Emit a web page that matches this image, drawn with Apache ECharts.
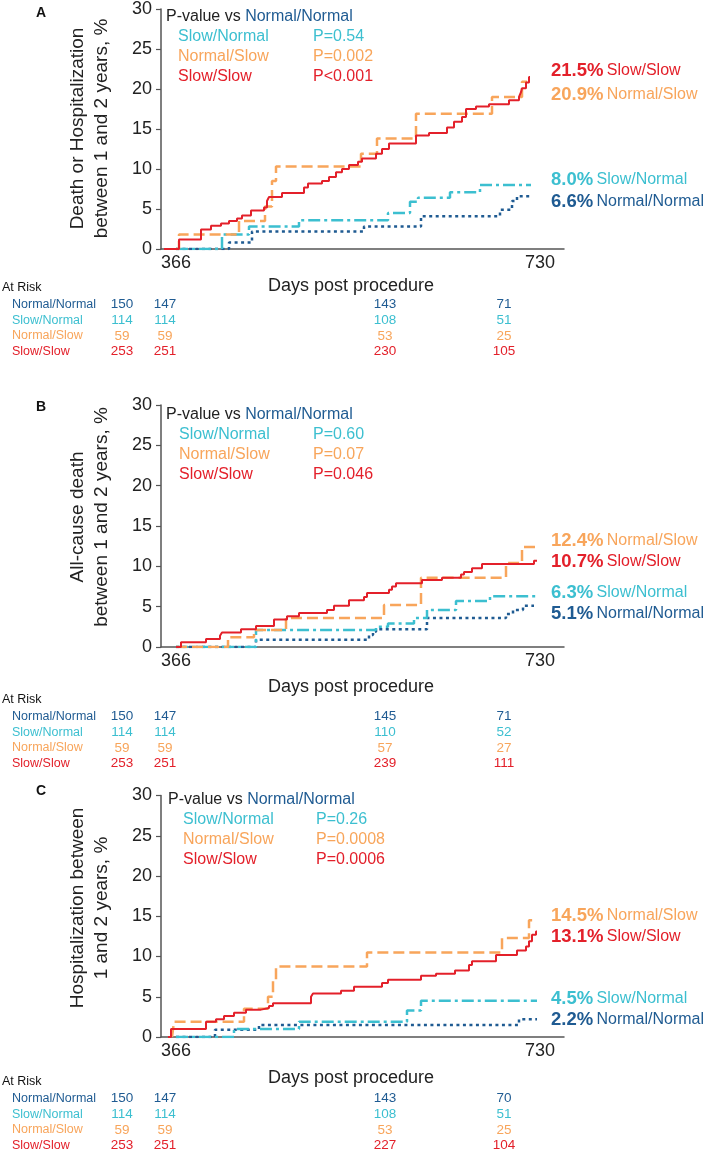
<!DOCTYPE html>
<html><head><meta charset="utf-8">
<script src="https://cdn.jsdelivr.net/npm/echarts@6/dist/echarts.min.js"></script>
<style>html,body{margin:0;padding:0;background:#fff}#c{width:709px;height:1149px}</style>
</head><body><div id="c"></div>
<script>
// ---------- data ----------
const groups = ['Normal/Normal', 'Slow/Normal', 'Normal/Slow', 'Slow/Slow'];
const xTickLabels = [366, 730];
const yTitles = [
  'Death or Hospitalization\nbetween 1 and 2 years, %',
  'All-cause death\nbetween 1 and 2 years, %',
  'Hospitalization between\n1 and 2 years, %'
];
const panelLetters = ['A', 'B', 'C'];

// Panel A: death or hospitalization
const aNN = [[366,0],[419,0.8],[442,2.2],[554,2.8],[611,4.1],[690,4.9],[702,6.0],[707,6.6],[721,6.6]];
const aSN = [[366,0],[412,1.8],[439,2.8],[489,3.6],[578,4.5],[600,5.9],[608,6.4],[640,7.1],[670,8.0],[721,8.0]];
const aNS = [[366,0],[369,1.8],[429,3.5],[455,5.3],[462,8.5],[466,10.3],[551,11.9],[567,13.8],[606,16.9],[682,19.0],[712,20.9],[717,20.9]];
const aSS = [[354,0],[369,1.2],[391,2.45],[401,2.9],[411,3.2],[419,3.5],[427,3.8],[432,4.2],[441,4.8],[454,5.2],[457,6.0],[459,6.5],[472,7.0],[494,7.7],[498,8.2],[512,8.5],[519,9.0],[526,9.6],[532,10.0],[539,10.5],[548,10.9],[552,11.3],[566,11.9],[572,12.5],[579,13.2],[606,14.2],[619,14.5],[637,15.2],[644,15.9],[652,16.5],[656,17.5],[666,17.8],[679,18.1],[699,18.6],[709,19.0],[711,19.6],[712,20.1],[716,20.8],[719,21.5],[720,21.5]];

// Panel B: all-cause death
const bNN = [[366,0],[446,0.9],[559,1.5],[563,1.9],[566,2.2],[617,3.6],[696,4.1],[703,4.6],[713,5.1],[724,5.1]];
const bSN = [[366,0],[446,2.1],[566,2.5],[578,2.9],[604,3.6],[617,4.6],[646,5.7],[680,6.3],[727,6.3]];
const bNS = [[366,0],[418,1.2],[444,2.1],[476,3.6],[574,5.2],[611,8.6],[696,10.4],[712,12.4],[727,12.4]];
const bSS = [[366,0],[371,0.6],[396,1.0],[410,1.4],[412,1.8],[431,2.2],[446,2.6],[464,3.4],[477,3.8],[489,4.2],[517,4.6],[524,5.1],[539,5.8],[554,6.2],[557,6.7],[579,7.1],[582,7.5],[586,7.9],[612,8.3],[632,8.6],[651,9.0],[654,9.3],[662,9.75],[672,10.3],[724,10.7],[727,10.7]];

// Panel C: hospitalization
const cNN = [[366,0],[405,0.9],[449,1.5],[709,2.2],[727,2.2]];
const cSN = [[366,0],[424,1.0],[489,1.9],[597,3.3],[611,4.5],[727,4.5]];
const cNS = [[362,0],[364,1.9],[434,3.5],[458,5.0],[463,7.0],[466,8.75],[557,10.5],[692,12.3],[719,14.5],[726,14.5]];
const cSS = [[358,0],[361,1.0],[396,1.9],[406,2.2],[414,2.6],[424,3.0],[436,3.4],[451,3.6],[459,3.85],[463,4.2],[501,5.0],[503,5.4],[531,5.75],[544,6.25],[572,6.7],[578,7.1],[611,7.6],[626,7.85],[645,8.25],[659,8.95],[662,9.4],[686,10.2],[707,10.75],[716,11.25],[719,11.9],[722,12.7],[726,13.1],[727,13.1]];

const pValues = [
  ['P=0.54', 'P=0.002', 'P<0.001'],
  ['P=0.60', 'P=0.07', 'P=0.046'],
  ['P=0.26', 'P=0.0008', 'P=0.0006']
];
// final cumulative incidence labels, in order NN, SN, NS, SS
const finalPct = [
  ['6.6%', '8.0%', '20.9%', '21.5%'],
  ['5.1%', '6.3%', '12.4%', '10.7%'],
  ['2.2%', '4.5%', '14.5%', '13.1%']
];
// numbers at risk: rows NN, SN, NS, SS
const riskA = [[150,147,143,71],[114,114,108,51],[59,59,53,25],[253,251,230,105]];
const riskB = [[150,147,145,71],[114,114,110,52],[59,59,57,27],[253,251,239,111]];
const riskC = [[150,147,143,70],[114,114,108,51],[59,59,53,25],[253,251,227,104]];

// ---------- style ----------
const colors = ['#1f5b92', '#3cbfd0', '#f8a55b', '#e3202a'];
const dashes = [[3, 3.5], [12, 4, 3, 4], [11, 5], 'solid'];
const widths = [2.5, 2.5, 2.5, 2];
const FONT = '"Liberation Sans", Arial, sans-serif';

const panels = [
  { top: 8, h: 241, curves: [aNN, aSN, aNS, aSS], risk: riskA, titleY: 128.5,
    pY: 17, pX: 166, rowX: 178, pvX: 313, finY: [202, 180, 95, 71], riskY: 288, daysY: 286 },
  { top: 405, h: 242, curves: [bNN, bSN, bNS, bSS], risk: riskB, titleY: 517,
    pY: 415, pX: 166, rowX: 179, pvX: 313, finY: [614, 593, 541, 562], riskY: 700, daysY: 687 },
  { top: 795.5, h: 241.5, curves: [cNN, cSN, cNS, cSS], risk: riskC, titleY: 908,
    pY: 800, pX: 168, rowX: 183, pvX: 316, finY: [1020, 999, 916, 937], riskY: 1082, daysY: 1078 }
];
const letterY = [13, 407, 791];
const riskColX = [122, 165, 385, 504];

const grid = [], xAxis = [], yAxis = [], series = [], graphic = [];
panels.forEach((p, i) => {
  grid.push({ left: 161, width: 403, top: p.top, height: p.h });
  xAxis.push({
    type: 'value', gridIndex: i, min: 351, max: 754,
    axisLine: { lineStyle: { color: '#555', width: 1.5 } },
    axisTick: { show: false }, splitLine: { show: false },
    axisLabel: { customValues: xTickLabels, fontSize: 18, color: '#222', fontFamily: FONT, margin: 5 }
  });
  yAxis.push({
    type: 'value', gridIndex: i, min: 0, max: 30, interval: 5,
    axisLine: { show: true, lineStyle: { color: '#555', width: 1.5 } },
    axisTick: { show: true, length: 5, lineStyle: { color: '#555', width: 1.2 } },
    splitLine: { show: false },
    axisLabel: { fontSize: 18, color: '#222', fontFamily: FONT, margin: 9 }
  });
  p.curves.forEach((d, g) => {
    series.push({
      type: 'line', xAxisIndex: i, yAxisIndex: i, data: d, step: 'end',
      symbol: 'none', z: g === 3 ? 5 : 3 - (g === 0 ? 1 : 0),
      lineStyle: { color: colors[g], width: widths[g], type: dashes[g], cap: 'butt' },
      silent: true, animation: false
    });
  });
  // panel letter
  graphic.push({ type: 'text', x: 41, y: letterY[i], style: { text: panelLetters[i], font: 'bold 14px ' + FONT, fill: '#111', align: 'center', verticalAlign: 'middle' } });
  // y title
  graphic.push({ type: 'text', x: 90, y: p.titleY, rotation: Math.PI / 2,
    style: { text: yTitles[i], font: '19px ' + FONT, fill: '#222', align: 'center', verticalAlign: 'middle', lineHeight: 24 } });
  // P-value legend
  graphic.push({ type: 'text', x: p.pX, y: p.pY, style: {
    text: '{k|P-value vs }{b|' + groups[0] + '}', verticalAlign: 'middle',
    rich: { k: { font: '16px ' + FONT, fill: '#222' }, b: { font: '16px ' + FONT, fill: colors[0] } } } });
  [1, 2, 3].forEach((g, r) => {
    const yy = p.pY + 19.7 * (r + 1);
    graphic.push({ type: 'text', x: p.rowX, y: yy, style: { text: groups[g], font: '16px ' + FONT, fill: colors[g], verticalAlign: 'middle' } });
    graphic.push({ type: 'text', x: p.pvX, y: yy, style: { text: pValues[i][r], font: '16px ' + FONT, fill: colors[g], verticalAlign: 'middle' } });
  });
  // final labels
  [0, 1, 2, 3].forEach(g => {
    graphic.push({ type: 'text', x: 551, y: p.finY[g], style: {
      text: '{b|' + finalPct[i][g] + '} {n|' + groups[g] + '}', verticalAlign: 'middle',
      rich: { b: { font: 'bold 18.5px ' + FONT, fill: colors[g] }, n: { font: '16px ' + FONT, fill: colors[g] } } } });
  });
  // x title
  graphic.push({ type: 'text', x: 351, y: p.daysY, style: { text: 'Days post procedure', font: '18px ' + FONT, fill: '#222', align: 'center', verticalAlign: 'middle' } });
  // at risk table
  graphic.push({ type: 'text', x: 2, y: p.riskY, style: { text: 'At Risk', font: '12.5px ' + FONT, fill: '#111', verticalAlign: 'middle' } });
  p.risk.forEach((row, g) => {
    const yy = p.riskY + 16.5 + 15.7 * g;
    graphic.push({ type: 'text', x: 12, y: yy, style: { text: groups[g], font: '12.5px ' + FONT, fill: colors[g], verticalAlign: 'middle' } });
    row.forEach((v, k) => {
      graphic.push({ type: 'text', x: riskColX[k], y: yy, style: { text: String(v), font: '13.5px ' + FONT, fill: colors[g], align: 'center', verticalAlign: 'middle' } });
    });
  });
});

const chart = echarts.init(document.getElementById('c'), null, { renderer: 'canvas' });
chart.setOption({ animation: false, backgroundColor: '#fff', grid, xAxis, yAxis, series, graphic });
</script>
</body></html>
